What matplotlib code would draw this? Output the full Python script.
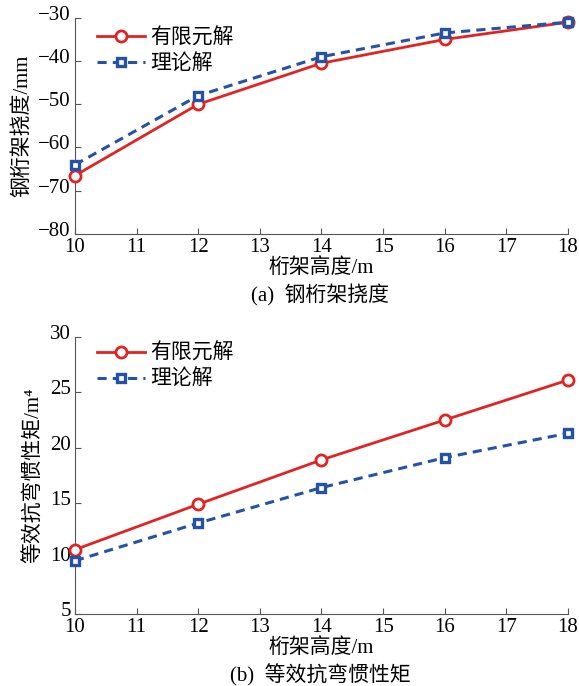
import numpy as np
import matplotlib.pyplot as plt
import matplotlib
import matplotlib.transforms as mtransforms

fam = ['Liberation Serif', 'Noto Sans CJK SC']
matplotlib.rcParams['font.family'] = fam
matplotlib.rcParams['xtick.direction'] = 'in'
matplotlib.rcParams['ytick.direction'] = 'in'

height = [10, 12, 14, 16, 18]
defl_fem = [-66.5, -50.0, -40.5, -35.0, -31.0]
defl_theory = [-64.0, -48.0, -39.0, -33.5, -31.0]
inertia_fem = [10.8, 14.9, 18.9, 22.5, 26.1]
inertia_theory = [9.8, 13.2, 16.4, 19.1, 21.3]

red = '#e02424'
blue = '#2452a4'

fig = plt.figure(figsize=(5.79, 6.86), dpi=100)
ax1 = fig.add_axes([0.1295, 0.659, 0.8515, 0.315])
ax2 = fig.add_axes([0.1295, 0.105, 0.8515, 0.404])

def style(ax, ylim, yticks):
    ax.set_xlim(10, 18)
    ax.set_ylim(*ylim)
    ax.set_xticks(range(10, 19))
    ax.set_yticks(yticks)
    ax.spines['top'].set_visible(False)
    ax.spines['right'].set_visible(False)
    for s in ax.spines.values():
        s.set_color('#555555')
    ax.tick_params(labelsize=15, length=4, color='#555555', pad=3)
    ax.set_xlabel('桁架高度/m', fontsize=15, labelpad=1)
    # MATLAB-like: y tick labels sit a bit above their ticks
    off = mtransforms.ScaledTranslation(0, 5 / 100., fig.dpi_scale_trans)
    for lab in ax.get_yticklabels():
        lab.set_transform(lab.get_transform() + off)

for ax, fem, th, ly in [(ax1, defl_fem, defl_theory, 0.99),
                        (ax2, inertia_fem, inertia_theory, 1.005)]:
    ax.plot(height, fem, '-o', color=red, lw=2, ms=8, mfc='white', mew=2,
            label='有限元解', clip_on=False, zorder=3)
    ax.plot(height, th, '--s', color=blue, lw=2.2, ms=6, mfc='white', mew=2.4,
            dashes=(3, 2), label='理论解', clip_on=False, zorder=4)
    ax.legend(loc='upper left', frameon=False, fontsize=15, handlelength=2.3,
              handletextpad=0.25, labelspacing=0.3, borderaxespad=0.0,
              bbox_to_anchor=(0.028, ly))

style(ax1, (-80, -30), range(-80, -29, 10))
style(ax2, (5, 30), range(5, 31, 5))
ax1.set_ylabel('钢桁架挠度/mm', fontsize=15, labelpad=4)
ax2.set_ylabel('等效抗弯惯性矩/m⁴', fontsize=15, labelpad=4)

fig.text(0.553, 0.569, '(a)  钢桁架挠度', ha='center', va='center', fontsize=15)
fig.text(0.553, 0.016, '(b)  等效抗弯惯性矩', ha='center', va='center', fontsize=15)

fig.savefig('out.png', dpi=100)
